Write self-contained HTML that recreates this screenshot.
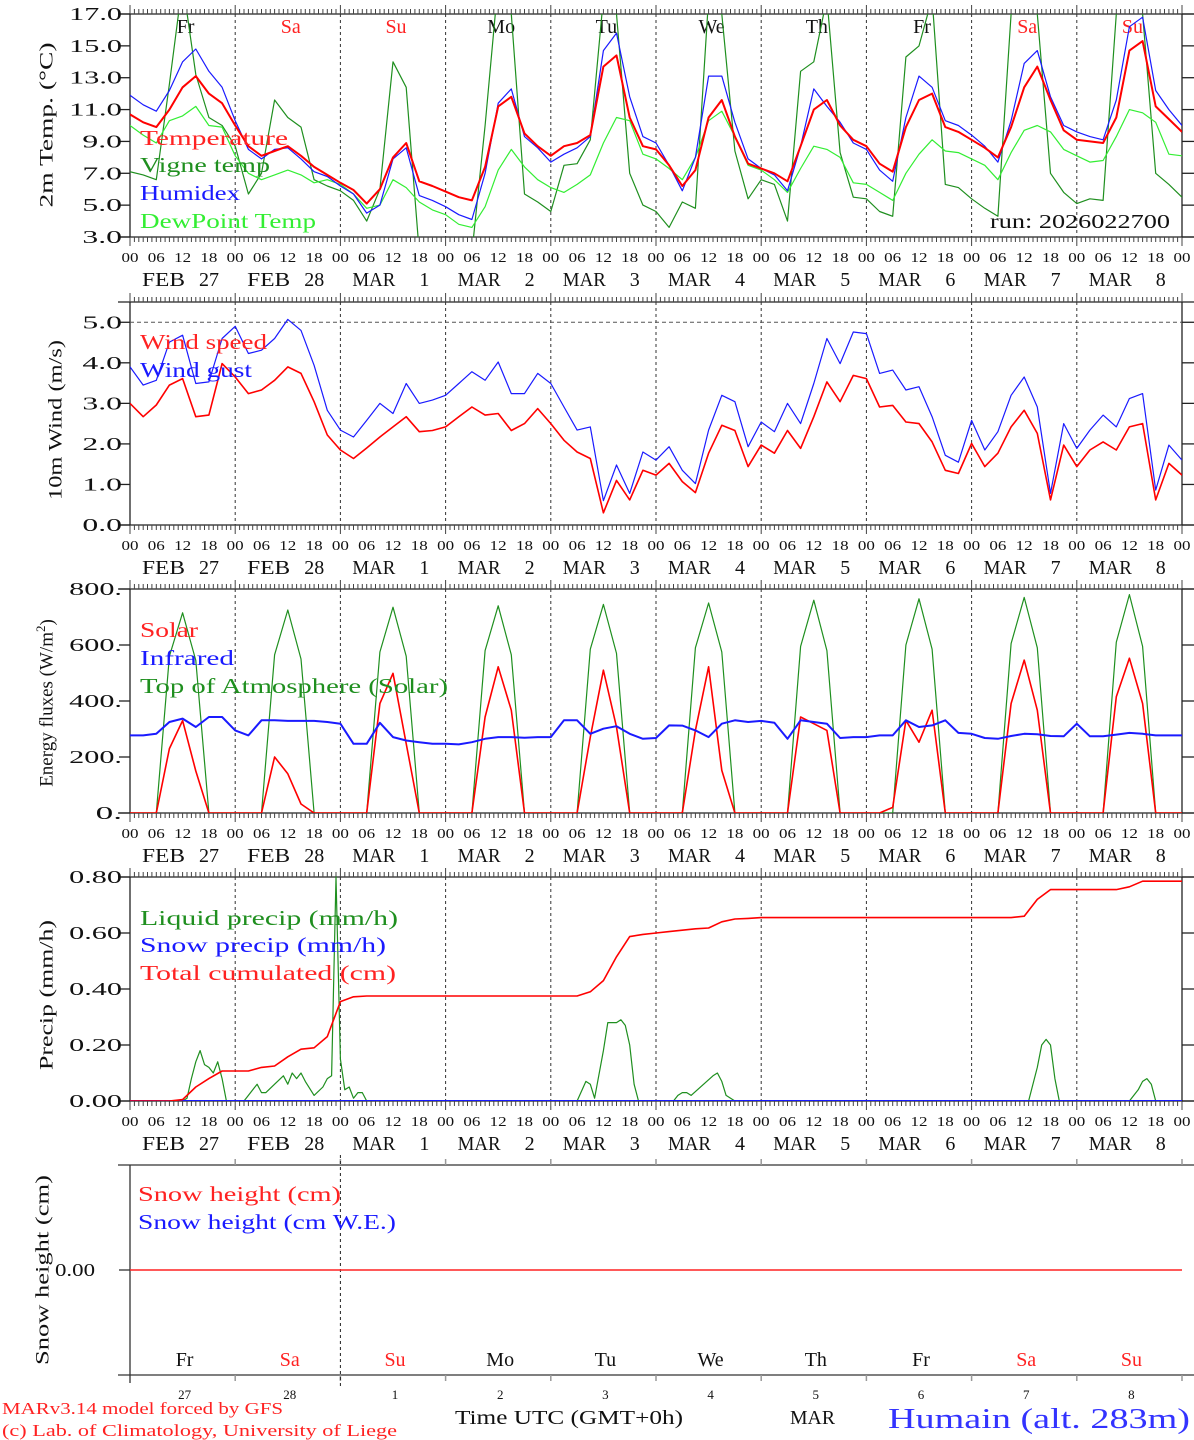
<!DOCTYPE html>
<html><head><meta charset="utf-8"><title>MAR forecast Humain</title>
<style>
html,body{margin:0;padding:0;background:#fff;}
svg{display:block;font-family:"Liberation Serif",serif;}
</style></head>
<body>
<svg id="chart" xmlns="http://www.w3.org/2000/svg" width="1194" height="1440" viewBox="0 0 1194 1440">
<rect x="0" y="0" width="1194" height="1440" fill="#fff"/>
</svg>
<script>
// ---------- DATA (3-hourly, from 27 Feb 00 UTC to 9 Mar 00 UTC) ----------
const dayLabels = ["Fr","Sa","Su","Mo","Tu","We","Th","Fr","Sa","Su"];
const dayWeekend = [false,true,true,false,false,false,false,false,true,true];
const dateMonths = ["FEB","FEB","MAR","MAR","MAR","MAR","MAR","MAR","MAR","MAR"];
const dateDays = ["27","28","1","2","3","4","5","6","7","8"];
const hourLabels = ["00","06","12","18"];

const temperature = [10.7,10.2,9.9,11.0,12.4,13.1,12.0,11.4,
 10.0,8.7,8.1,8.4,8.7,8.1,7.4,6.9,
 6.4,5.95,5.1,6.0,8.0,8.9,6.5,6.2,
 5.85,5.5,5.3,7.4,11.2,11.8,9.5,8.7,
 8.1,8.7,8.9,9.4,13.7,14.4,10.5,8.7,
 8.5,7.5,6.2,7.2,10.5,11.6,9.3,7.6,
 7.3,7.0,6.5,8.7,11.0,11.6,10.0,9.1,
 8.7,7.6,7.1,9.9,11.6,12.0,9.9,9.6,
 9.1,8.6,8.0,9.9,12.4,13.7,11.6,9.7,
 9.1,9.0,8.9,10.5,14.7,15.3,11.2,10.4,
 9.6];
const humidex = [11.9,11.3,10.9,12.2,14.0,14.8,13.4,12.4,
 10.3,8.5,7.9,8.5,8.6,7.9,7.1,6.8,
 6.2,5.7,4.5,5.0,7.9,8.6,5.6,5.3,
 4.9,4.4,4.1,7.0,11.4,12.3,9.3,8.6,
 7.7,8.2,8.6,9.3,14.7,15.8,11.8,9.3,
 8.9,7.5,5.9,8.0,13.1,13.1,10.2,7.9,
 7.3,6.9,5.9,8.7,12.3,11.2,10.2,8.9,
 8.5,7.2,6.5,10.5,13.1,12.4,10.3,10.0,
 9.4,8.7,7.7,10.3,13.9,14.7,11.8,10.0,
 9.6,9.3,9.1,11.6,16.2,16.8,12.2,11.0,
 10.0];
const dewPoint = [10.0,9.4,8.9,10.3,10.6,11.2,10.0,9.9,
 8.1,7.0,6.6,6.9,7.2,6.9,6.4,6.6,
 6.3,5.7,4.8,5.0,6.6,6.1,5.2,4.7,
 4.4,3.8,3.6,4.9,7.2,8.5,7.4,6.6,
 6.1,5.8,6.3,6.9,8.9,10.5,10.3,8.2,
 7.9,7.3,6.6,8.0,10.3,10.9,9.3,7.5,
 7.2,6.6,5.8,7.3,8.7,8.5,8.0,6.4,
 6.3,5.8,5.3,7.0,8.2,9.1,8.4,8.3,
 7.9,7.5,6.6,8.3,9.7,10.0,9.6,8.5,
 8.1,7.7,7.8,9.3,11.0,10.8,10.2,8.2,
 8.1];
const vigneTemp = [7.1,6.9,6.6,12.6,19,13.2,10.5,10.0,
 8.7,5.7,7.0,11.6,10.5,9.9,6.6,6.2,
 5.9,5.3,4.0,6.0,14.0,12.4,2.0,1.5,
 1.5,1.5,2.0,10,19,17,5.7,5.2,
 4.6,7.5,7.6,9.1,18,17,7.0,5.0,
 4.6,3.6,5.2,4.8,18,17,8.4,5.4,
 6.6,6.3,4.0,13.4,14.0,18,8.3,5.5,
 5.4,4.6,4.3,14.3,15.0,18,6.3,6.1,
 5.4,4.8,4.3,17,19,17,7.0,5.8,
 5.1,5.4,5.3,17,19,17,7.0,6.3,
 5.5];
const windSpeed = [3.0,2.67,2.96,3.45,3.61,2.67,2.71,3.98,
 3.65,3.24,3.33,3.57,3.9,3.74,3.04,2.22,
 1.85,1.64,1.9,2.17,2.42,2.67,2.3,2.33,
 2.42,2.67,2.91,2.71,2.75,2.33,2.5,2.87,
 2.5,2.09,1.8,1.64,0.3,1.1,0.62,1.35,
 1.23,1.52,1.07,0.8,1.77,2.46,2.33,1.44,
 1.97,1.77,2.33,1.89,2.67,3.53,3.04,3.69,
 3.61,2.91,2.95,2.54,2.5,2.05,1.35,1.27,
 2.01,1.44,1.77,2.42,2.83,2.26,0.62,1.97,
 1.44,1.85,2.05,1.85,2.42,2.5,0.62,1.52,
 1.23];
const windGust = [3.9,3.45,3.57,4.51,4.68,3.49,3.53,4.6,
 4.9,4.23,4.31,4.6,5.07,4.8,3.94,2.83,
 2.34,2.17,2.58,3.0,2.75,3.49,3.0,3.08,
 3.2,3.49,3.78,3.57,4.02,3.24,3.24,3.74,
 3.49,2.91,2.34,2.42,0.6,1.48,0.78,1.8,
 1.6,1.93,1.35,1.02,2.34,3.2,3.04,1.93,
 2.54,2.3,3.0,2.5,3.49,4.6,3.98,4.76,
 4.72,3.74,3.82,3.33,3.41,2.67,1.72,1.55,
 2.58,1.85,2.3,3.2,3.65,2.91,0.78,2.5,
 1.89,2.34,2.71,2.42,3.12,3.24,0.86,1.97,
 1.6];
const solar = [0,0,0,230,330,150,0,0,
 0,0,0,200,140,32,0,0,
 0,0,0,391,499,248,0,0,
 0,0,0,343,522,367,0,0,
 0,0,0,271,510,307,0,0,
 0,0,0,295,522,152,0,0,
 0,0,0,343,319,295,0,0,
 0,0,20,331,253,367,0,0,
 0,0,0,391,546,367,0,0,
 0,0,0,415,553,391,0,0,
 0];
const infrared = [277,277,283,325,337,307,343,343,
 295,277,331,331,329,329,329,325,
 319,247,247,322,271,259,253,247,
 247,245,253,265,271,271,269,271,
 271,331,331,283,301,310,283,265,
 268,313,312,295,271,319,331,325,
 329,322,265,331,325,319,268,271,
 271,277,277,331,307,313,331,286,
 283,268,265,275,283,281,275,274,
 319,274,274,280,286,283,277,277,
 277];
const topOfAtmosphere = [0,0,0,560,715,545,0,0,
 0,0,0,565,725,550,0,0,
 0,0,0,575,735,560,0,0,
 0,0,0,580,740,565,0,0,
 0,0,0,585,745,570,0,0,
 0,0,0,590,750,575,0,0,
 0,0,0,595,760,580,0,0,
 0,0,0,600,765,585,0,0,
 0,0,0,605,770,590,0,0,
 0,0,0,610,780,595,0,0,
 0];
const totalCumulated = [0,0,0,0,0.005,0.05,0.08,0.107,
 0.107,0.107,0.12,0.125,0.158,0.185,0.19,0.23,
 0.355,0.372,0.375,0.375,0.375,0.375,0.375,0.375,
 0.375,0.375,0.375,0.375,0.375,0.375,0.375,0.375,
 0.375,0.375,0.375,0.39,0.43,0.515,0.587,0.595,
 0.6,0.605,0.61,0.615,0.618,0.64,0.65,0.652,
 0.655,0.655,0.655,0.655,0.655,0.655,0.655,0.655,
 0.655,0.655,0.655,0.655,0.655,0.655,0.655,0.655,
 0.655,0.655,0.655,0.655,0.66,0.72,0.755,0.755,
 0.755,0.755,0.755,0.755,0.765,0.785,0.785,0.785,
 0.785];
const precipHours = [0,12,13,14,15,16,17,18,19,20,21,22,26,27,29,30,31,33,35,36,37,38,39,40,42,44,45,46,47,48,49,50,51,52,53,54,
 102,104,105,106,108,109,110,111,112,113,114,115,116,124,125,126,127,128,133,134,135,136,138,
 205,207,208,209,210,211,212,228,230,231,232,233,234,240];
const precipLiquid = [0,0,0.01,0.08,0.14,0.18,0.13,0.12,0.10,0.14,0.08,0,0,0.02,0.06,0.03,0.03,0.06,0.09,0.06,0.10,0.08,0.10,0.07,0.02,0.05,0.08,0.09,0.80,0.15,0.04,0.05,0.01,0.03,0.03,0,
 0,0.07,0.06,0.01,0.18,0.28,0.28,0.28,0.29,0.27,0.20,0.06,0,0,0.02,0.03,0.03,0.02,0.09,0.10,0.07,0.02,0,
 0,0.12,0.20,0.22,0.20,0.08,0,0,0.04,0.07,0.08,0.06,0,0];
const snowPrecip = [0,0,0,0,0,0,0,0,0,0,0];
const snowHeight = [0,0,0,0,0,0,0,0,0,0,0];

const tempTicks = [3,5,7,9,11,13,15,17];
const windTicks = [0,1,2,3,4,5];
const energyTicks = [0,200,400,600,800];
const precipTicks = [0,0.2,0.4,0.6,0.8];

// ---------- helpers ----------
const NS = "http://www.w3.org/2000/svg";
const svg = document.getElementById("chart");
const X0 = 130, X1 = 1182, HOURS = 240;
function xs(h){ return X0 + h / HOURS * (X1 - X0); }
function mk(tag, attrs, parent){
  const e = document.createElementNS(NS, tag);
  for (const k in attrs) e.setAttribute(k, attrs[k]);
  (parent || svg).appendChild(e);
  return e;
}
function txt(str, attrs, parent){
  const e = mk("text", attrs, parent);
  e.textContent = str;
  return e;
}
function makeY(top, bottom, min, max){
  return v => bottom - (v - min) / (max - min) * (bottom - top);
}
function seriesPath(hours, vals, ys){
  let d = "";
  for (let i = 0; i < vals.length; i++) d += (i ? "L" : "M") + xs(hours[i]).toFixed(1) + "," + ys(vals[i]).toFixed(1);
  return d;
}
const h3 = temperature.map((_, i) => i * 3);
const hDay = snowHeight.map((_, i) => i * 24);

function frame(id, top, bottom){
  const g = mk("g", {});
  
  
  mk("line", {x1:118, y1:top, x2:1194, y2:top, stroke:"#222", "stroke-width":1.3}, g);
  mk("line", {x1:118, y1:bottom, x2:1194, y2:bottom, stroke:"#222", "stroke-width":1.3}, g);
  mk("line", {x1:X0, y1:top, x2:X0, y2:bottom, stroke:"#222", "stroke-width":1.3}, g);
  mk("line", {x1:X1, y1:top, x2:X1, y2:bottom, stroke:"#222", "stroke-width":1.3}, g);
  let d = "";
  for (let h = 0; h <= HOURS; h++){
    const x = xs(h).toFixed(1), L = (h % 24 === 0) ? 9 : 5;
    d += "M" + x + "," + top + "v-" + L + "M" + x + "," + bottom + "v" + L;
  }
  mk("path", {d:d, stroke:"#444", "stroke-width":1, fill:"none"}, g);
  for (let dd = 1; dd < 10; dd++){
    const x = xs(dd * 24);
    mk("line", {x1:x, y1:top, x2:x, y2:bottom, stroke:"#333", "stroke-width":1, "stroke-dasharray":"3,3"}, g);
  }
  for (let h = 0; h <= HOURS; h += 6){
    const t = txt(hourLabels[(h / 6) % 4], {x:xs(h), y:bottom + 25, "font-size":14, "text-anchor":"middle", fill:"#111", textLength:17, lengthAdjust:"spacingAndGlyphs"}, g);
    
    
  }
  for (let dd = 0; dd < 10; dd++){
    const x = xs(dd * 24);
    const m = txt(dateMonths[dd], {x:x + 12, y:bottom + 49, "font-size":20, fill:"#111", textLength:43, lengthAdjust:"spacingAndGlyphs"}, g);
    
    
    const n = txt(dateDays[dd], {x:x + 89, y:bottom + 49, "font-size":20, fill:"#111", "text-anchor":"end"}, g);
    
    
  }
  return g;
}
function yAxis(ticks, labels, ys, g){
  ticks.forEach((v, i) => {
    const y = ys(v);
    mk("line", {x1:119, y1:y, x2:X0, y2:y, stroke:"#222", "stroke-width":1.3}, g);
    mk("line", {x1:X1, y1:y, x2:X1 + 12, y2:y, stroke:"#222", "stroke-width":1.3}, g);
    const t = txt(labels[i], {x:122, y:y + 6, "font-size":18, "text-anchor":"end", fill:"#111", textLength:labels[i].length * 13.2, lengthAdjust:"spacingAndGlyphs"}, g);
    
    
  });
}
function yTitle(str, cx, cy, len){
  const t = txt(str, {x:0, y:0, "font-size":19, "text-anchor":"middle", "dominant-baseline":"central", fill:"#111", transform:"translate(" + cx + "," + cy + ") rotate(-90)", textLength:len, lengthAdjust:"spacingAndGlyphs"});
  
  
}
function legend(str, x, y, len, color){
  const t = txt(str, {x:x, y:y, "font-size":21, fill:color, textLength:len, lengthAdjust:"spacingAndGlyphs"});
  
  
}
function clip(id, top, bottom){
  const defs = mk("defs", {});
  const cp = mk("clipPath", {id:id}, defs);
  mk("rect", {x:X0, y:top, width:X1 - X0, height:bottom - top}, cp);
}
function series(hours, vals, ys, color, w, clipId, name){
  const p = mk("path", {d:seriesPath(hours, vals, ys), fill:"none", stroke:color, "stroke-width":w, "stroke-linejoin":"round", "clip-path":"url(#" + clipId + ")"});
  
  
  return p;
}

// ---------- PANEL 1: temperature ----------
(function(){
  const top = 14, bottom = 237;
  const ys = makeY(top, bottom, 3, 17);
  const g = frame("temperature-panel", top, bottom);
  yAxis(tempTicks, tempTicks.map(v => v.toFixed(1)), ys, g);
  clip("c1", top, bottom);
  for (let d = 0; d < 10; d++){
    const t = txt(dayLabels[d], {x:xs(d * 24 + 12) + 3, y:33, "font-size":20, "text-anchor":"middle", fill:dayWeekend[d] ? "#ff2222" : "#111"});
    
    
  }
  series(h3, vigneTemp, ys, "#1f8f1f", 1.2, "c1", "vigne-temp-line");
  series(h3, dewPoint, ys, "#33ee33", 1.2, "c1", "dewpoint-line");
  series(h3, humidex, ys, "#1a1aff", 1.2, "c1", "humidex-line");
  series(h3, temperature, ys, "#ff0000", 2, "c1", "temperature-line");
  legend("Temperature", 140, 145, 148, "#ff2222");
  legend("Vigne temp", 140, 172, 130, "#1f8f1f");
  legend("Humidex", 140, 200, 100, "#1a1aff");
  legend("DewPoint Temp", 140, 228, 176, "#33ee33");
  const r = txt("run: 2026022700", {x:990, y:228, "font-size":20, fill:"#111", textLength:180, lengthAdjust:"spacingAndGlyphs"});
  
  
  yTitle("2m Temp. (\u00B0C)", 47, 125, 165);
})();

// ---------- PANEL 2: wind ----------
(function(){
  const top = 302, bottom = 525;
  const ys = makeY(top, bottom, 0, 5.5);
  const g = frame("wind-panel", top, bottom);
  yAxis(windTicks, windTicks.map(v => v.toFixed(1)), ys, g);
  clip("c2", top, bottom);
  const ref = mk("line", {x1:X0, y1:ys(5), x2:X1, y2:ys(5), stroke:"#555", "stroke-width":1, "stroke-dasharray":"4,3"});
  
  
  series(h3, windGust, ys, "#1a1aff", 1.2, "c2", "wind-gust-line");
  series(h3, windSpeed, ys, "#ff0000", 1.6, "c2", "wind-speed-line");
  legend("Wind speed", 140, 349, 127, "#ff2222");
  legend("Wind gust", 140, 377, 112, "#1a1aff");
  yTitle("10m Wind (m/s)", 56, 420, 160);
})();

// ---------- PANEL 3: energy ----------
(function(){
  const top = 589, bottom = 813;
  const ys = makeY(top, bottom, 0, 800);
  const g = frame("energy-panel", top, bottom);
  yAxis(energyTicks, energyTicks.map(v => v + "."), ys, g);
  clip("c3", top, bottom);
  series(h3, topOfAtmosphere, ys, "#1f8f1f", 1.2, "c3", "toa-solar-line");
  series(h3, solar, ys, "#ff0000", 1.6, "c3", "solar-line");
  series(h3, infrared, ys, "#1a1aff", 2, "c3", "infrared-line");
  legend("Solar", 140, 637, 58, "#ff2222");
  legend("Infrared", 140, 665, 94, "#1a1aff");
  legend("Top of Atmosphere (Solar)", 140, 693, 308, "#1f8f1f");
  const t = txt("", {x:0, y:0, "font-size":19, "text-anchor":"middle", "dominant-baseline":"central", fill:"#111", transform:"translate(47,703) rotate(-90)"});
  
  
  t.appendChild(document.createTextNode("Energy fluxes (W/m"));
  const sup = mk("tspan", {"font-size":13, dy:-7}, t);
  sup.textContent = "2";
  const cl = mk("tspan", {dy:7}, t);
  cl.textContent = ")";
})();

// ---------- PANEL 4: precip ----------
(function(){
  const top = 877, bottom = 1101;
  const ys = makeY(top, bottom, 0, 0.8);
  const g = frame("precip-panel", top, bottom);
  yAxis(precipTicks, precipTicks.map(v => v.toFixed(2)), ys, g);
  clip("c4", top - 2, bottom);
  series(precipHours, precipLiquid, ys, "#1f8f1f", 1.2, "c4", "liquid-precip-line");
  series(hDay, snowPrecip, ys, "#1a1aff", 2, "c4", "snow-precip-line");
  series(h3, totalCumulated, ys, "#ff0000", 1.6, "c4", "total-cumulated-line");
  legend("Liquid precip (mm/h)", 140, 925, 258, "#1f8f1f");
  legend("Snow precip (mm/h)", 140, 952, 246, "#1a1aff");
  legend("Total cumulated (cm)", 140, 980, 256, "#ff2222");
  yTitle("Precip (mm/h)", 47, 995, 150);
})();

// ---------- PANEL 5: snow height ----------
(function(){
  const top = 1165, bottom = 1375;
  const ys = makeY(top, bottom, -1, 1);
  const g = mk("g", {});
  
  
  mk("line", {x1:118, y1:top, x2:1194, y2:top, stroke:"#333", "stroke-width":1.3}, g);
  mk("line", {x1:118, y1:bottom, x2:1194, y2:bottom, stroke:"#333", "stroke-width":1.3}, g);
  mk("line", {x1:X0, y1:top, x2:X0, y2:bottom + 8, stroke:"#333", "stroke-width":1.3}, g);
  for (let d = 1; d <= 10; d++){
    const x = xs(d * 24);
    mk("line", {x1:x, y1:top - 6, x2:x, y2:top, stroke:"#999", "stroke-width":1.5}, g);
    mk("line", {x1:x, y1:bottom, x2:x, y2:bottom + 6, stroke:"#999", "stroke-width":1.5}, g);
  }
  const xm = xs(48);
  mk("line", {x1:xm, y1:top - 10, x2:xm, y2:bottom + 12, stroke:"#222", "stroke-width":1, "stroke-dasharray":"3,3"}, g);
  mk("line", {x1:119, y1:ys(0), x2:X0, y2:ys(0), stroke:"#333", "stroke-width":1.3}, g);
  const lab = txt("0.00", {x:95, y:ys(0) + 6, "font-size":18, "text-anchor":"end", fill:"#111", textLength:40, lengthAdjust:"spacingAndGlyphs"}, g);
  
  
  clip("c5", top, bottom);
  series(hDay, snowHeight, ys, "#ff2222", 1.6, "c5", "snow-height-line");
  for (let d = 0; d < 10; d++){
    const c = xs(d * 24 + 12) + 2;
    const w = txt(dayLabels[d], {x:c, y:1366, "font-size":20, "text-anchor":"middle", fill:dayWeekend[d] ? "#ff2222" : "#111"});
    
    
    const n = txt(dateDays[d], {x:c, y:1399, "font-size":13, "text-anchor":"middle", fill:"#111"});
    
    
  }
  legend("Snow height (cm)", 138, 1201, 203, "#ff2222");
  legend("Snow height (cm W.E.)", 138, 1229, 258, "#1a1aff");
  yTitle("Snow height (cm)", 43, 1270, 190);
})();

// ---------- footer ----------
(function(){
  const a = txt("MARv3.14 model forced by GFS", {x:2, y:1414, "font-size":17, fill:"#ff2222", textLength:281, lengthAdjust:"spacingAndGlyphs"});
  
  
  const b = txt("(c) Lab. of Climatology, University of Liege", {x:2, y:1436, "font-size":17, fill:"#ff2222", textLength:395, lengthAdjust:"spacingAndGlyphs"});
  
  
  const c = txt("Time UTC (GMT+0h)", {x:455, y:1424, "font-size":20, fill:"#111", textLength:228, lengthAdjust:"spacingAndGlyphs"});
  
  
  const m = txt("MAR", {x:790, y:1424, "font-size":20, fill:"#111", textLength:45, lengthAdjust:"spacingAndGlyphs"});
  
  
  const s = txt("Humain (alt. 283m)", {x:888, y:1428, "font-size":29, fill:"#3333ff", textLength:302, lengthAdjust:"spacingAndGlyphs"});
  
  
})();
</script>
</body></html>
